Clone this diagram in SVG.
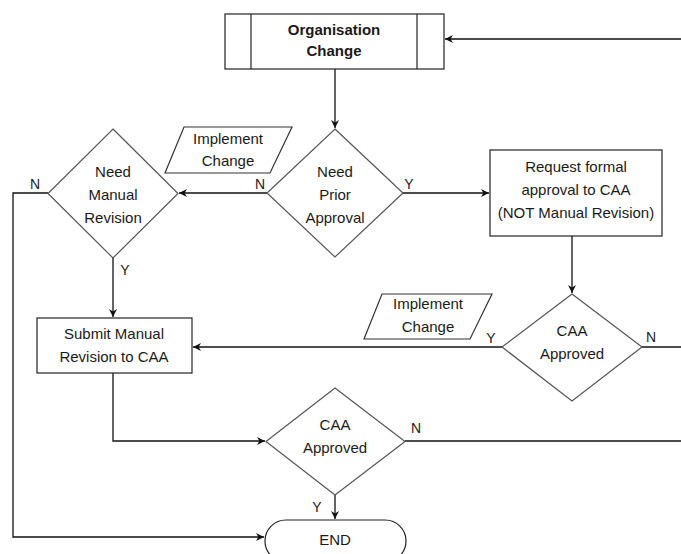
<svg xmlns="http://www.w3.org/2000/svg" width="681" height="554" viewBox="0 0 681 554">
<style>
text{font-family:"Liberation Sans",Arial,sans-serif;font-size:15px;fill:#1a1a1a;text-anchor:middle}
.b{font-weight:bold}
.box{fill:#fff;stroke:#222;stroke-width:1.2}
.dia{fill:#fff;stroke:#555;stroke-width:1.2}
.par{fill:#fff;stroke:#333;stroke-width:1.2}
.c{fill:none;stroke:#111;stroke-width:1.3}
.lbl{font-size:14px}
</style>
<defs>
<marker id="ah" viewBox="0 0 10 10" refX="10" refY="5" markerWidth="8" markerHeight="8" orient="auto" markerUnits="userSpaceOnUse">
<path d="M0,0 L10,5 L0,10 L3,5 z" fill="#111"/>
</marker>
</defs>
<rect width="681" height="554" fill="#fff"/>
<g id="connectors">
<path class="c" d="M681,39 H445" marker-end="url(#ah)"/>
<path class="c" d="M335,69 V128" marker-end="url(#ah)"/>
<path class="c" d="M267,193 H179" marker-end="url(#ah)"/>
<path class="c" d="M403,193 H489" marker-end="url(#ah)"/>
<path class="c" d="M48,193 H13 V537 H264" marker-end="url(#ah)"/>
<path class="c" d="M113,258 V317" marker-end="url(#ah)"/>
<path class="c" d="M572,236 V293" marker-end="url(#ah)"/>
<path class="c" d="M502,347 H193" marker-end="url(#ah)"/>
<path class="c" d="M642,347 H681"/>
<path class="c" d="M113,373 V441 H265" marker-end="url(#ah)"/>
<path class="c" d="M405,441 H681"/>
<path class="c" d="M335,495 V519" marker-end="url(#ah)"/>
<text class="lbl" x="260" y="189">N</text>
<text class="lbl" x="409" y="189">Y</text>
<text class="lbl" x="35" y="189">N</text>
<text class="lbl" x="125" y="275">Y</text>
<text class="lbl" x="491" y="343">Y</text>
<text class="lbl" x="651" y="342">N</text>
<text class="lbl" x="416" y="433">N</text>
<text class="lbl" x="317" y="512">Y</text>
</g>
<g id="org-change">
<rect class="box" x="225" y="14" width="219" height="55"/>
<line class="box" x1="251" y1="14" x2="251" y2="69"/>
<line class="box" x1="417" y1="14" x2="417" y2="69"/>
<text class="b" x="334" y="35">Organisation</text>
<text class="b" x="334" y="56">Change</text>
</g>
<g id="need-prior-approval">
<polygon class="dia" points="335,129 403,193 335,257 267,193"/>
<text x="335" y="177">Need</text>
<text x="335" y="200">Prior</text>
<text x="335" y="223">Approval</text>
</g>
<g id="implement-change-1">
<polygon class="par" points="184,127 292,127 270,173 165,173"/>
<text x="228" y="144">Implement</text>
<text x="228" y="166">Change</text>
</g>
<g id="need-manual-revision">
<polygon class="dia" points="113,129 178,193.5 113,258 48,193.5"/>
<text x="113" y="177">Need</text>
<text x="113" y="200">Manual</text>
<text x="113" y="223">Revision</text>
</g>
<g id="request-formal">
<rect class="box" x="490" y="150" width="172" height="86"/>
<text x="576" y="172">Request formal</text>
<text x="576" y="195">approval to CAA</text>
<text x="576" y="218">(NOT Manual Revision)</text>
</g>
<g id="caa-approved-1">
<polygon class="dia" points="572,294 642,347 572,401 502,347"/>
<text x="572" y="336">CAA</text>
<text x="572" y="359">Approved</text>
</g>
<g id="implement-change-2">
<polygon class="par" points="382,294 492,294 470,339 364,339"/>
<text x="428" y="309">Implement</text>
<text x="428" y="332">Change</text>
</g>
<g id="submit-manual">
<rect class="box" x="37" y="318" width="155" height="55"/>
<text x="114" y="339">Submit Manual</text>
<text x="114" y="362">Revision to CAA</text>
</g>
<g id="caa-approved-2">
<polygon class="dia" points="335,388 405,441.5 335,495 266,441.5"/>
<text x="335" y="430">CAA</text>
<text x="335" y="453">Approved</text>
</g>
<g id="end">
<rect class="box" x="265" y="520" width="141" height="42" rx="21" ry="21"/>
<text x="335" y="545">END</text>
</g>
</svg>
